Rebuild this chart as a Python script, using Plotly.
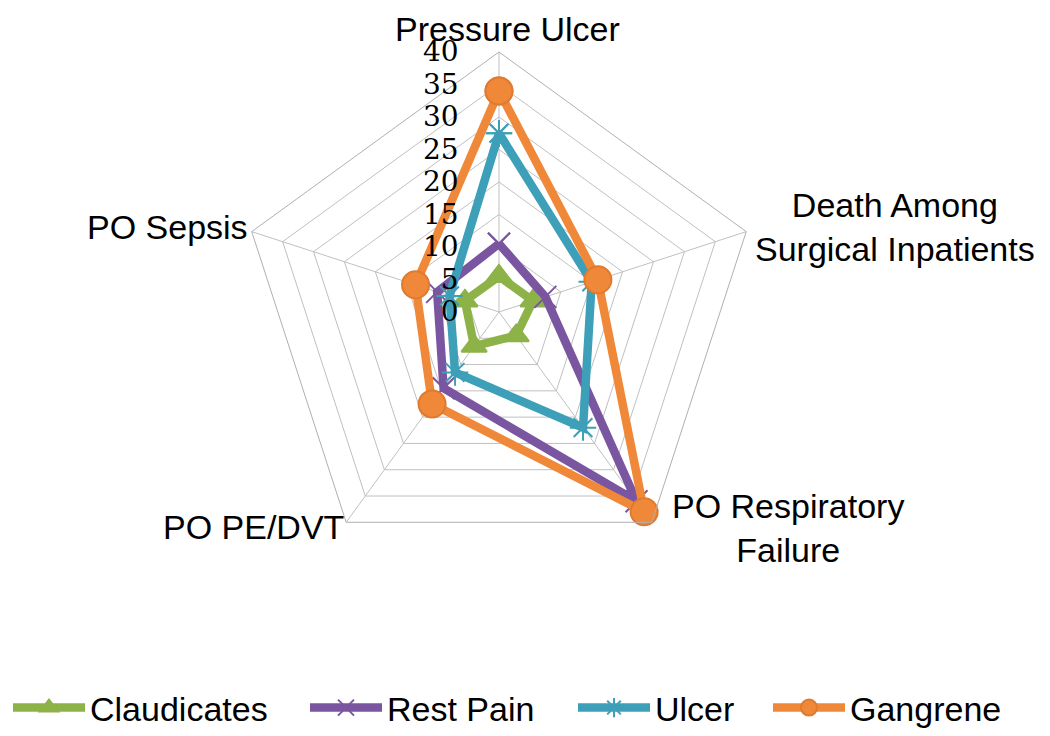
import plotly.graph_objects as go

categories = ["Pressure Ulcer", "Death Among Surgical Inpatients", "PO Respiratory Failure", "PO PE/DVT", "PO Sepsis"]
category_labels = ["Pressure Ulcer", "Death Among<br>Surgical Inpatients", "PO Respiratory<br>Failure", "PO PE/DVT", "PO Sepsis"]
claudicates = [5.5, 5.5, 4.5, 6.5, 5.5]
rest_pain = [10.5, 7.5, 36, 14.5, 10]
ulcer = [27.5, 15, 22, 11.5, 8]
gangrene = [34, 16, 38, 17.5, 13.5]
radial_ticks = [0, 5, 10, 15, 20, 25, 30, 35, 40]

# name, values, colour, marker, marker size, edge colour, legend entry width
series = [
    ("Claudicates", claudicates, "#8db348", "triangle-up", 22, "#8db348", 210),
    ("Rest Pain", rest_pain, "#7a55a0", "x-thin", 22, "#7a55a0", 181),
    ("Ulcer", ulcer, "#3d9fb8", "asterisk", 22, "#3d9fb8", 108),
    ("Gangrene", gangrene, "#f0883a", "circle", 27, "#e07a2e", 160),
]

fig = go.Figure()
for name, vals, color, sym, size, edge, lw in series:
    fig.add_trace(go.Scatterpolar(
        r=vals + vals[:1],
        theta=categories + categories[:1],
        name=name,
        mode="lines+markers",
        line=dict(color=color, width=8.5),
        marker=dict(symbol=sym, size=size, color=color,
                    line=dict(color=edge, width=2)),
        legendwidth=lw,
    ))

# category labels as annotations (centered multi-line like the original)
label_pos = [(499, 0, "center", "top"), (1029, 219, "right", "middle"),
             (780, 520, "center", "middle"), (245, 519, "center", "middle"),
             (159, 219, "center", "middle")]
for txt, (px, py, anc, vanc) in zip(category_labels, label_pos):
    fig.add_annotation(
        x=px / 1050, y=1 - py / 736, xref="paper", yref="paper",
        text=txt, showarrow=False, align="center",
        xanchor=anc, yanchor=vanc,
        font=dict(family="Liberation Sans, Arial", size=34, color="black"),
    )

fig.update_layout(
    width=1050, height=736,
    margin=dict(l=0, r=0, t=0, b=0),
    paper_bgcolor="white",
    font=dict(family="Liberation Sans, Arial", size=34, color="black"),
    polar=dict(
        domain=dict(x=[0.2200, 0.7152], y=[0.2337, 0.9403]),
        gridshape="linear",
        bgcolor="white",
        angularaxis=dict(
            rotation=90, direction="clockwise",
            showline=True, linecolor="#b0b0b0", linewidth=1,
            gridcolor="#c0c0c0", gridwidth=1,
            ticks="", showticklabels=False,
        ),
        radialaxis=dict(
            range=[0, 40], tickvals=radial_ticks,
            angle=90, tickangle=90, side="counterclockwise",
            showline=False, gridcolor="#c0c0c0", gridwidth=1,
            ticks="outside", ticklen=30, tickcolor="rgba(0,0,0,0)",
            tickfont=dict(family="DejaVu Serif", size=28),
        ),
    ),
    legend=dict(
        orientation="h", x=0, xanchor="left", y=1 - 700 / 736, yanchor="middle",
        font=dict(size=34), itemwidth=72,
    ),
)

fig.write_html("out.html")
